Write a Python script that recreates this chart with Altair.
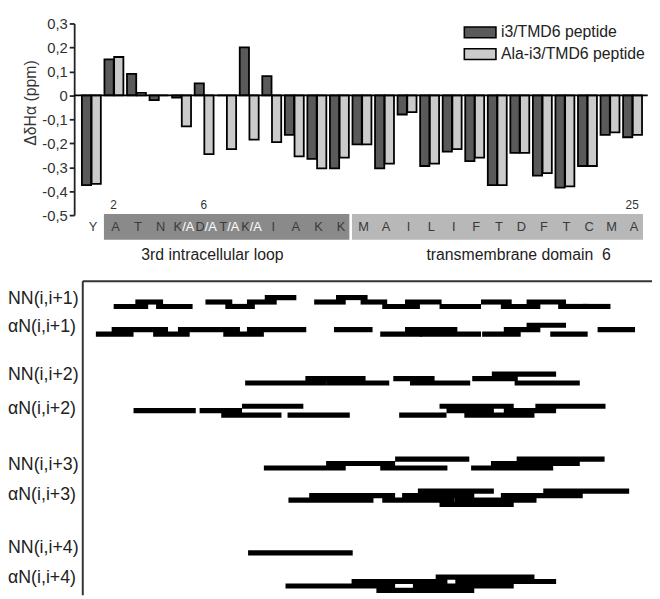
import altair as alt
import pandas as pd

# ---------------- data ----------------
residues = list("YATNKDTKIAKKMAILIFTDFTCMA")
i3_tmd6 = [-0.375, 0.15, 0.09, -0.02, -0.01, 0.05, 0.0, 0.20, 0.08, -0.165,
           -0.265, -0.305, -0.205, -0.305, -0.08, -0.295, -0.235, -0.275, -0.375,
           -0.24, -0.335, -0.385, -0.295, -0.165, -0.175]
ala_i3_tmd6 = [-0.37, 0.16, 0.01, 0.0, -0.13, -0.245, -0.225, -0.185, -0.195, -0.255,
               -0.305, -0.26, -0.205, -0.285, -0.07, -0.285, -0.225, -0.26, -0.375,
               -0.24, -0.325, -0.38, -0.295, -0.155, -0.165]
series_names = ["i3/TMD6 peptide", "Ala-i3/TMD6 peptide"]
mutated_residues = [5, 6, 7, 8]
numbered_residues = [2, 6, 25]
region_names = ["3rd intracellular loop", "transmembrane domain\u00a0 6"]
region_first = [2, 13]
region_last = [12, 25]
y_ticks = [-0.5, -0.4, -0.3, -0.2, -0.1, 0, 0.1, 0.2, 0.3]

noe_labels = ["NN(i,i+1)", "αN(i,i+1)", "NN(i,i+2)", "αN(i,i+2)",
              "NN(i,i+3)", "αN(i,i+3)", "NN(i,i+4)", "αN(i,i+4)"]
# NOE connectivities: (from residue, to residue, stacking level)
nn_1 = [(1.92, 3.45, 0), (2.88, 4.11, 1), (3.80, 5.42, 0), (5.99, 7.18, 1), (6.87, 8.18, 0),
        (7.83, 9.15, 1), (8.62, 10.02, 2), (10.81, 12.21, 1), (11.78, 13.18, 2), (12.87, 14.05, 1),
        (13.83, 15.50, 0), (14.84, 16.46, 1), (16.37, 18.21, 0), (18.21, 19.57, 1), (19.09, 20.84, 0),
        (20.23, 21.98, 1), (21.63, 22.94, 0), (22.72, 23.95, 0)]
an_1 = [(1.13, 2.80, 0), (1.83, 4.33, 1), (3.67, 5.29, 0), (4.77, 7.52, 1), (6.78, 8.58, 0),
        (7.83, 10.46, 1), (11.69, 13.40, 1), (13.74, 15.59, 0), (14.84, 17.16, 1), (15.50, 18.21, 0),
        (18.26, 19.97, 0), (19.22, 20.84, 1), (20.23, 21.98, 2), (21.28, 22.94, 0), (23.38, 25.04, 1)]
nn_2 = [(7.75, 11.34, 0), (10.42, 13.09, 1), (11.34, 14.14, 0), (14.32, 16.15, 1), (15.06, 17.73, 0),
        (17.82, 19.84, 1), (18.69, 21.54, 2), (19.70, 22.59, 0)]
an_2 = [(2.80, 5.56, 1), (5.73, 7.61, 1), (6.69, 9.36, 0), (7.61, 10.33, 2), (9.63, 12.39, 0),
        (14.58, 16.68, 0), (16.37, 19.66, 2), (16.68, 18.78, 1), (17.47, 20.58, 0), (19.22, 21.54, 1),
        (20.62, 23.73, 2)]
nn_3 = [(8.58, 12.21, 0), (11.34, 14.40, 1), (14.40, 17.69, 2), (13.74, 16.72, 0), (17.77, 21.41, 0),
        (18.65, 22.59, 1), (19.79, 23.69, 2)]
an_3 = [(9.67, 13.44, 1), (10.59, 14.40, 2), (13.83, 17.03, 1), (14.71, 17.91, 2), (15.41, 18.78, 3),
        (16.37, 19.66, 0), (17.03, 20.67, 1), (19.09, 22.72, 2), (20.97, 24.78, 3)]
nn_4 = [(7.88, 12.52, 0)]
an_4 = [(9.54, 14.40, 1), (15.19, 19.66, 1), (12.47, 16.72, 2), (17.07, 21.54, 2),
        (16.20, 20.58, 3), (13.57, 17.91, 0)]
noe_sets = [nn_1, an_1, nn_2, an_2, nn_3, an_3, nn_4, an_4]

# ---------------- layout / style ----------------
W, H = 585, 579
STEP = 22.83                      # px per residue
X0 = 0.168
XSCALE = alt.Scale(domain=[X0, X0 + W / STEP], nice=False, zero=False)
ID_SCALE = alt.Scale(domain=[0, H], range=[0, H], nice=False, zero=False)
PPM_SCALE = alt.Scale(domain=[-0.5, 0.3], range=[194, 0], nice=False, zero=False)
FONT = "Liberation Sans, Arial, Helvetica, sans-serif"
DARK, LIGHT = "#5a5a5a", "#cbcbcb"
BAND_COLORS = ["#8a8a8a", "#b8b8b8"]
REGION_LABEL_DX = [-16, 20]
ROW_BASE = [286.5, 314.5, 364, 396.5, 450, 487, 536, 574]
ROW_LABEL_Y = [279, 307, 356, 390, 447, 477, 531, 561]
LEVEL_STEP = 4.5

# ---------------- top: chemical shift bars ----------------
bar_rows = []
for i, (a, b) in enumerate(zip(i3_tmd6, ala_i3_tmd6), start=1):
    bar_rows.append({"pos": i, "series": series_names[0], "value": a})
    bar_rows.append({"pos": i, "series": series_names[1], "value": b})
bars_df = pd.DataFrame(bar_rows)

ppm_axis = alt.Axis(
    values=y_ticks,
    labelExpr="datum.value == 0 ? '0' : (datum.value < 0 ? '-' : '') + '0,' + abs(round(datum.value * 10))",
    title="ΔδHα (ppm)", titleX=-44, titleY=80, titleAngle=270, titleBaseline="middle",
    titleAlign="center", titleFont=FONT, titleFontSize=16, titleFontWeight="normal",
    titleColor="#333", labelFont=FONT, labelFontSize=15, labelColor="#333",
    labelPadding=2, tickSize=5, tickColor="#222", tickWidth=1.8,
    domainColor="#222", domainWidth=1.8, grid=False, labelOverlap=False, labelFlush=False)

bars = alt.Chart(bars_df).transform_calculate(
    x0=f"datum.pos + (datum.series == '{series_names[0]}' ? -0.49 : -0.06)",
    x1="datum.x0 + 0.41", base="0"
).mark_rect(stroke="black", strokeWidth=1.8).encode(
    x=alt.X("x0:Q", scale=XSCALE, axis=None), x2="x1:Q",
    y=alt.Y("value:Q", scale=PPM_SCALE, axis=ppm_axis), y2="base:Q",
    fill=alt.Fill("series:N", scale=alt.Scale(domain=series_names, range=[DARK, LIGHT]), legend=None),
)
zero_line = alt.Chart(pd.DataFrame({"value": [0]})).mark_rule(color="black", strokeWidth=1.8).encode(
    y=alt.Y("value:Q", scale=PPM_SCALE, axis=ppm_axis),
    x=alt.value(0), x2=alt.value(580.7),
)
ppm_layer = alt.layer(bars, zero_line)

# legend (drawn by hand)
legend_layers = []
for i, (name, col) in enumerate(zip(series_names, [DARK, LIGHT])):
    ldf = pd.DataFrame({"name": [name]})
    legend_layers.append(alt.Chart(ldf).mark_rect(fill=col, stroke="black", strokeWidth=1.6).encode(
        x=alt.value(395), x2=alt.value(427), y=alt.value(3.5 + 22 * i), y2=alt.value(14.5 + 22 * i)))
    legend_layers.append(alt.Chart(ldf).mark_text(font=FONT, fontSize=16, color="#222", align="left",
                                                  baseline="middle").encode(
        x=alt.value(432), y=alt.value(9 + 22 * i), text="name:N"))

# ---------------- sequence band ----------------
regions_df = pd.DataFrame({"name": region_names, "first": region_first, "last": region_last})
band_layers = []
for i in range(len(region_names)):
    rdf = regions_df.iloc[[i]]
    band_layers.append(alt.Chart(rdf).transform_calculate(
        bx0="datum.first - 0.57", bx1="datum.last + 0.45"
    ).mark_rect(fill=BAND_COLORS[i], stroke="white", strokeWidth=2.6).encode(
        x=alt.X("bx0:Q", scale=XSCALE, axis=None), x2="bx1:Q",
        y=alt.value(191.7), y2=alt.value(220.3)))
    band_layers.append(alt.Chart(rdf).transform_calculate(
        mid="(datum.first + datum.last) / 2"
    ).mark_text(font=FONT, fontSize=16, color="#222", baseline="middle", dx=REGION_LABEL_DX[i]).encode(
        x=alt.X("mid:Q", scale=XSCALE, axis=None), y=alt.value(234), text="name:N"))

positions = list(range(1, len(residues) + 1))
letters_df = pd.DataFrame({"pos": positions, "letter": residues,
                           "mut": [p in mutated_residues for p in positions]})
letter_enc = dict(x=alt.X("pos:Q", scale=XSCALE, axis=None), y=alt.value(206))
letters = alt.Chart(letters_df).transform_filter("!datum.mut").mark_text(
    font=FONT, fontSize=13, color="#3a3a3a", baseline="middle").encode(text="letter:N", **letter_enc)
mut_a = alt.Chart(letters_df).transform_filter("datum.mut").mark_text(
    font=FONT, fontSize=13, color="#3a3a3a", baseline="middle", align="right", dx=-1
).encode(text="letter:N", **letter_enc)
mut_b = alt.Chart(letters_df).transform_filter("datum.mut").transform_calculate(
    sub="'/A'").mark_text(
    font=FONT, fontSize=13, color="white", baseline="middle", align="left", dx=-1
).encode(text="sub:N", **letter_enc)
numbers = alt.Chart(pd.DataFrame({"pos": numbered_residues})).transform_calculate(
    lbl="'' + datum.pos").mark_text(font=FONT, fontSize=12, color="#333", baseline="middle", dx=-2
).encode(x=alt.X("pos:Q", scale=XSCALE, axis=None), y=alt.value(184), text="lbl:N")

# ---------------- bottom: NOE connectivities ----------------
noe_rows = []
for r, segs in enumerate(noe_sets):
    for (s, e, lev) in segs:
        noe_rows.append({"row": noe_labels[r], "start": s, "end": e, "level": lev,
                         "ypos": ROW_BASE[r] - lev * LEVEL_STEP})
noe_df = pd.DataFrame(noe_rows)
noe_rules = alt.Chart(noe_df).mark_rule(color="black", strokeWidth=5.2, strokeCap="butt").encode(
    x=alt.X("start:Q", scale=XSCALE, axis=None), x2="end:Q",
    y=alt.Y("ypos:Q", scale=ID_SCALE, axis=None))
noe_text = alt.Chart(pd.DataFrame({"label": noe_labels, "ly": ROW_LABEL_Y})).mark_text(
    font=FONT, fontSize=18, color="#222", align="left", baseline="middle").encode(
    x=alt.value(-67), y=alt.Y("ly:Q", scale=ID_SCALE, axis=None), text="label:N")
noe_layer = alt.layer(noe_rules, noe_text)

one = pd.DataFrame({"k": [0]})
box_top = alt.Chart(one).mark_rule(color="#333", strokeWidth=2).encode(
    x=alt.value(8.7), x2=alt.value(W), y=alt.value(261))
box_left = alt.Chart(one).mark_rule(color="#333", strokeWidth=2).encode(
    x=alt.value(8.7), y=alt.value(261), y2=alt.value(H))

chart = alt.layer(
    ppm_layer, *legend_layers, *band_layers, letters, mut_a, mut_b, numbers,
    noe_layer, box_top, box_left
).resolve_scale(y="independent").properties(
    width=W, height=H,
    autosize=alt.AutoSizeParams(type="none"),
    padding={"left": 67, "top": 12, "right": 0, "bottom": 0},
    background="white",
).configure_view(stroke=None)

chart.save("out.html", embed_options={"renderer": "svg", "actions": False})
